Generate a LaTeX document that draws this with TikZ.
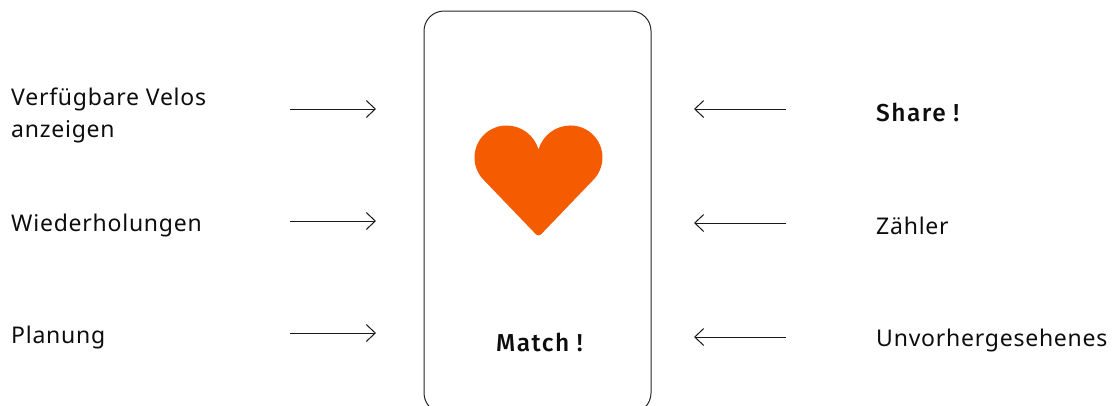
\documentclass[tikz,border=0pt]{standalone}
\usepackage{fontspec}
\setmainfont{Noto Sans}[LetterSpace=3.3,BoldFont={Fira Sans Medium},BoldFeatures={LetterSpace=6}]
\usetikzlibrary{arrows.meta}
\definecolor{heartorange}{HTML}{F55B00}
\tikzset{
  x=1pt,y=-1pt,
  label/.style={anchor=base west,inner sep=0pt,font=\fontsize{23}{32}\selectfont,text=black!95},
  strong/.style={label,font=\fontsize{24.5}{32}\selectfont\bfseries},
  conn/.style={draw=black!90,line width=0.9pt,-{Straight Barb[length=9pt,width=17pt,line width=1pt]}},
  phone/.style={draw=black!85,line width=1pt,rounded corners=20pt,minimum width=227pt,minimum height=402pt,inner sep=0pt}
}
\begin{document}
\begin{tikzpicture}
\useasboundingbox (0,0) rectangle (1115,405);
\clip (0,0) rectangle (1115,405);
\node[phone] (box) at (537.5,212) {};
\fill[heartorange] (538.5,149.5) .. controls (534.5,135.5) and (521.5,125.5) .. (506.5,125.5)
  arc[start angle=90,end angle=225,radius=32pt] -- (534.5,232.8)
  .. controls (537,236.2) and (540,236.2) .. (542.5,232.8)
  -- (593.1,180.1) arc[start angle=-45,end angle=90,radius=32pt]
  .. controls (555.5,125.5) and (542.5,135.5) .. (538.5,149.5) -- cycle;
\node[label] (a) at (11,105) {Verfügbare Velos};
\node[label] (a2) at (11,137) {anzeigen};
\node[label] (b) at (11,231) {Wiederholungen};
\node[label] (c) at (11,343) {Planung};
\node[strong] (d) at (876,121) {Share !};
\node[label] (e) at (876,234) {Zähler};
\node[label] (f) at (876,346) {Unvorhergesehenes};
\node[strong] (m) at (496,351) {Match !};
\coordinate (a0) at (290,109); \coordinate (a1) at (376,109);
\coordinate (b0) at (290,221); \coordinate (b1) at (376,221);
\coordinate (c0) at (290,333); \coordinate (c1) at (376,333);
\coordinate (d0) at (786,109); \coordinate (d1) at (694,109);
\coordinate (e0) at (786,223); \coordinate (e1) at (694,223);
\coordinate (f0) at (786,337); \coordinate (f1) at (694,337);
\draw[conn] (a0) -- (a1);
\draw[conn] (b0) -- (b1);
\draw[conn] (c0) -- (c1);
\draw[conn] (d0) -- (d1);
\draw[conn] (e0) -- (e1);
\draw[conn] (f0) -- (f1);
\end{tikzpicture}
\end{document}
